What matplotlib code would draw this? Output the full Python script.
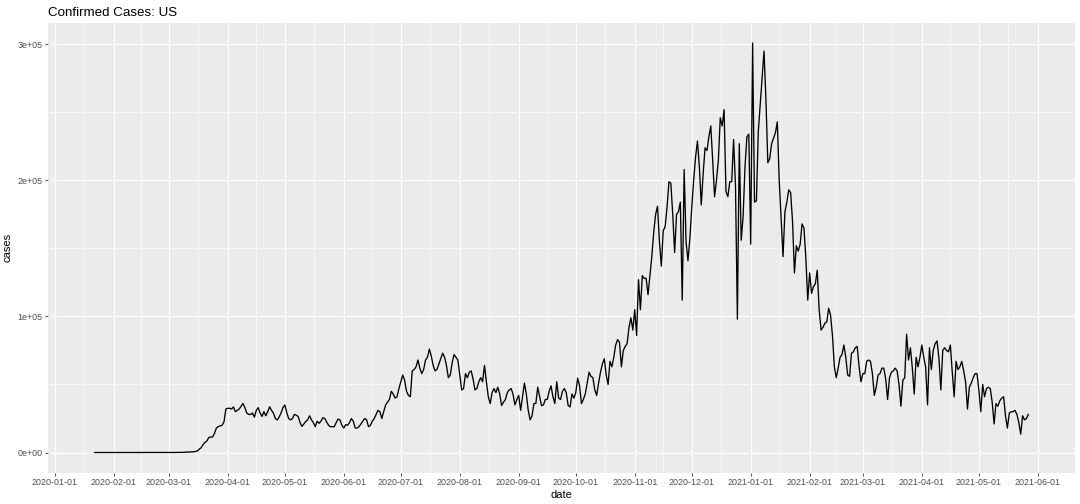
import numpy as np
import pandas as pd
import matplotlib
matplotlib.use("Agg")
import matplotlib.pyplot as plt
import matplotlib.dates as mdates
from matplotlib.ticker import FuncFormatter, FixedLocator

# ---- data: daily confirmed cases (thousands), starting 2020-01-22 ----
start_date = "2020-01-22"
jan20 = [0.001, 0, 0.001, 0, 0.003, 0, 0, 0, 0, 0.002]
feb20 = [0.001, 0, 0, 0.003, 0, 0, 0, 0, 0, 0.001,
         0, 0, 0.001, 0, 0, 0, 0, 0, 0, 0,
         0, 0.018, 0, 0.036, 0, 0.004, 0.002, 0.003, 0.008]
mar20 = [0.007, 0.023, 0.020, 0.031, 0.068, 0.045, 0.140, 0.116, 0.065, 0.376,
         0.322, 0.382, 0.516, 0.548, 0.772, 1.133, 2.5, 3.5, 5.9, 7.4,
         8.5, 11.0, 11.4, 11.4, 14.0, 18.0, 19.0, 19.6, 20.0, 22.5,
         32.0]
apr20 = [32.5, 32.5, 32.0, 33.5, 30.0, 31.0, 32.0, 34.0, 36.0, 33.0,
         29.0, 28.0, 28.0, 29.0, 26.0, 31.0, 33.0, 29.0, 26.5, 30.0,
         27.0, 30.0, 33.6, 31.0, 29.0, 25.0, 23.9, 26.0, 29.0, 33.0]
may20 = [35.0, 29.5, 25.0, 24.0, 25.0, 28.0, 27.5, 26.5, 22.0, 19.2,
         21.0, 22.8, 24.0, 27.0, 24.0, 22.0, 19.0, 23.0, 21.5, 23.0,
         25.6, 25.0, 22.4, 20.0, 19.0, 19.0, 19.0, 22.0, 24.6, 24.0,
         20.0]
jun20 = [18.0, 20.5, 20.0, 22.0, 25.0, 23.0, 18.0, 18.0, 19.0, 21.0,
         23.0, 25.0, 24.0, 19.0, 20.0, 23.0, 25.0, 28.0, 31.0, 30.0,
         25.0, 30.0, 35.0, 37.0, 39.0, 45.0, 43.0, 40.0, 41.0, 47.0]
jul20 = [52, 57, 53, 45, 42, 41, 60, 61, 63, 68,
         62, 58, 61, 68, 70, 76, 71, 64, 60, 61,
         65, 69, 73, 70, 64, 55, 57, 66, 72, 70,
         68]
aug20 = [57, 46, 47, 58, 55, 59, 60, 54, 46, 47,
         52, 55, 52, 64, 52, 41, 36, 44, 47, 44,
         48, 43, 34.5, 37, 39, 44, 46, 47, 43, 35,
         39]
sep20 = [42, 31, 41, 51, 43, 31, 24, 27, 36, 36,
         48, 41, 34.5, 35, 39, 39, 45, 49, 41, 36,
         52, 40, 39, 45, 47, 44, 34.5, 33.5, 43, 40]
oct20 = [44, 54.6, 49, 36, 39, 43, 51, 59, 56, 55,
         46, 42, 51, 59, 65, 69, 57, 50, 67, 63,
         70, 79, 83, 81, 63, 75, 78, 80, 92, 99,
         90]
nov20 = [105, 86, 127, 105, 130, 128, 128, 116, 130, 144,
         162, 175, 181, 155, 137, 163, 166, 180, 199, 198,
         175, 147, 175, 177, 184, 112, 208, 155, 141, 157]
dec20 = [180, 200, 217, 229, 210, 182, 205, 224, 222, 232,
         240, 215, 188, 200, 215, 246, 240, 252, 192, 188,
         199, 199, 230, 196, 98, 227, 156, 173, 210, 232,
         234]
jan21 = [153, 301, 184, 185, 236, 256, 275, 295, 260, 213,
         216, 227, 231, 235, 243, 200, 172, 144, 177, 184,
         193, 191, 170, 132, 152, 148, 153, 168, 165, 143,
         112]
feb21 = [132, 117, 122, 124, 134, 105, 90, 92, 95, 96,
         106, 101, 86, 63, 55, 62, 70, 72, 79, 70,
         57, 56, 73, 74, 77, 78, 63, 52]
mar21 = [58, 58, 67, 68, 67, 58, 42, 48, 57, 58,
         62, 62, 54, 39, 55, 59, 60, 62, 60, 50,
         34, 53, 55, 87, 68, 77, 62, 43, 70, 63,
         70]
apr21 = [79, 70, 63, 35, 77, 61, 75, 80, 82, 69,
         46, 75, 77, 75, 74, 79, 59, 41, 67, 61,
         63, 67, 60, 52, 32, 48, 51, 55, 58, 58]
may21 = [46, 30, 50, 41, 47, 48, 47, 37, 21, 36,
         34, 38, 40, 41, 27, 18, 29, 30, 30, 31,
         28, 22, 13.5, 27, 24, 25, 28]

months = [jan20, feb20, mar20, apr20, may20, jun20, jul20, aug20, sep20,
          oct20, nov20, dec20, jan21, feb21, mar21, apr21, may21]
cases = np.concatenate([np.asarray(m, dtype=float) for m in months]) * 1000
dates = pd.date_range(start_date, periods=len(cases), freq="D")

x_breaks = pd.date_range("2020-01-01", "2021-06-01", freq="MS")
y_breaks = [0, 100000, 200000, 300000]

title = "Confirmed Cases: US"
x_title = "date"
y_title = "cases"

# ---- style ----
plt.rcParams["font.family"] = ["Liberation Sans", "DejaVu Sans"]
fig = plt.figure(figsize=(10.8, 5.04), dpi=100)
ax = fig.add_axes([48 / 1080, 1 - 473 / 504, (1075 - 48) / 1080, (473 - 22.5) / 504])
ax.set_facecolor("#EBEBEB")
for s in ax.spines.values():
    s.set_visible(False)

ax.plot(dates, cases, color="black", linewidth=0.95, zorder=3)
ax.margins(x=0.05, y=0.05)

# x axis
xb = mdates.date2num(x_breaks)
ax.xaxis.set_major_locator(FixedLocator(xb))
ax.xaxis.set_major_formatter(FuncFormatter(lambda v, p: mdates.num2date(v).strftime("%Y-%m-%d")))
ax.xaxis.set_minor_locator(FixedLocator((xb[:-1] + xb[1:]) / 2))

# y axis
yb = np.array(y_breaks, dtype=float)
ax.yaxis.set_major_locator(FixedLocator(yb))
ax.yaxis.set_minor_locator(FixedLocator((yb[:-1] + yb[1:]) / 2))
ax.yaxis.set_major_formatter(FuncFormatter(lambda v, p: f"{v:.0e}"))

ax.grid(which="major", color="white", linewidth=0.85, zorder=0)
ax.grid(which="minor", color="white", linewidth=0.42, zorder=0)
ax.set_axisbelow(True)

ax.tick_params(which="major", length=2.2, width=0.6, color="#333333",
               labelsize=6.4, labelcolor="#4D4D4D", pad=1.6)
ax.tick_params(which="minor", length=0)

ax.set_xlabel(x_title, fontsize=8, color="black", labelpad=2)
ax.set_ylabel(y_title, fontsize=8, color="black", labelpad=4)

fig.text(48 / 1080, 1 - 16 / 504, title, fontsize=9.6, color="black",
         ha="left", va="baseline")

fig.savefig("out.png", dpi=100, facecolor="white")
